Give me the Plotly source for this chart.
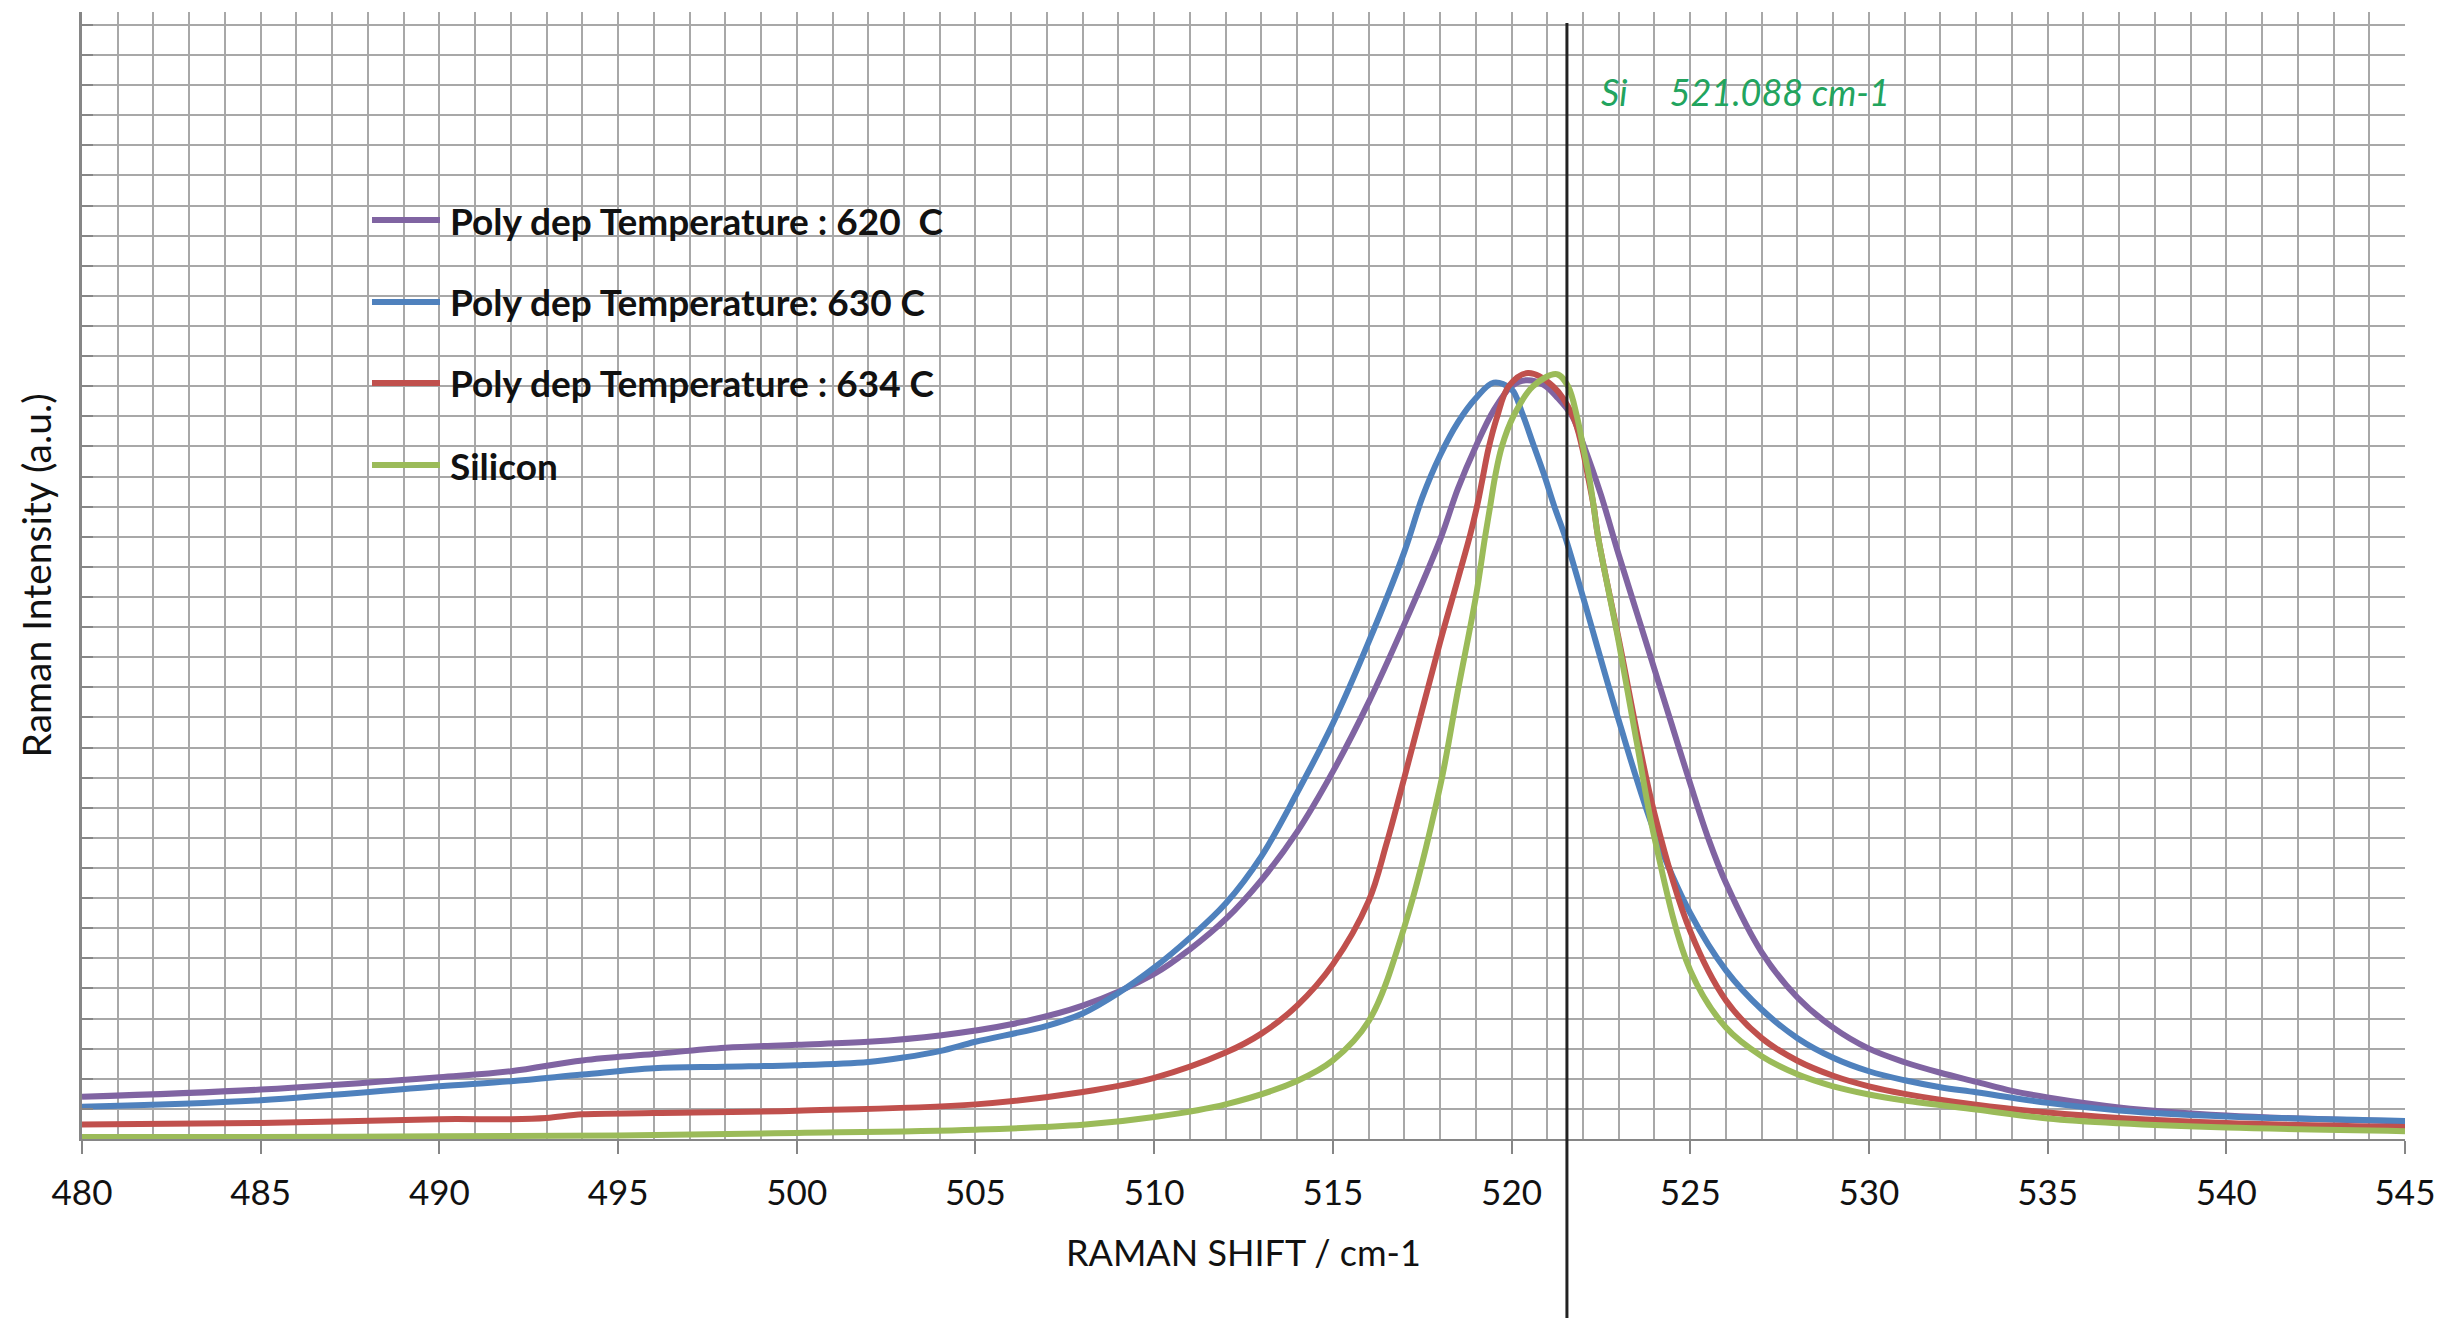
import plotly.graph_objects as go

# ---------------- data ----------------
series_names = [
    "Poly dep Temperature : 620\u00a0\u00a0C",
    "Poly dep Temperature: 630 C",
    "Poly dep Temperature : 634 C",
    "Silicon",
]

x_620 = [480, 485, 490, 492, 494, 496, 498, 500, 502, 504, 506, 508, 510, 511, 512, 513, 514, 515, 516, 517,
         518, 518.5, 519, 519.5, 520, 520.4, 520.9, 521.3, 521.7, 522, 522.5, 523, 523.5,
         524, 524.5, 525, 525.5, 526, 527, 528, 529, 530, 531, 532, 533, 534, 535, 537, 540, 545]
y_620 = [1.40, 1.64, 2.05, 2.25, 2.61, 2.82, 3.03, 3.13, 3.23, 3.44, 3.81, 4.43, 5.48, 6.3, 7.3, 8.6, 10.2, 12.2, 14.5, 17.1,
         19.9, 21.6, 23.0, 24.2, 25.0, 25.2, 25.05, 24.6, 24.0, 23.1, 21.4, 19.4, 17.5,
         15.6, 13.7, 11.8, 10.0, 8.5, 6.2, 4.7, 3.7, 3.0, 2.55, 2.2, 1.9, 1.6, 1.38, 1.05, 0.78, 0.58]

x_630 = [480, 485, 490, 492, 494, 496, 498, 500, 502, 503, 504, 505, 507, 508, 509, 510, 511, 512, 513,
         514, 515, 516, 517, 517.5, 518, 518.5, 519, 519.5, 520, 520.3, 520.6, 520.9, 521.2, 521.5, 522, 523,
         524, 525, 526, 527, 528, 529, 530, 531, 532, 533, 535, 537, 540, 545]
y_630 = [1.07, 1.29, 1.75, 1.92, 2.14, 2.35, 2.40, 2.45, 2.56, 2.71, 2.92, 3.23, 3.76, 4.17, 4.85, 5.69, 6.68, 7.82, 9.39,
         11.5, 13.8, 16.5, 19.5, 21.3, 22.7, 23.8, 24.6, 25.12, 24.9, 24.1, 23.1, 22.1, 21.0, 20.0, 18.0, 13.9,
         10.2, 7.5, 5.6, 4.3, 3.35, 2.7, 2.25, 1.95, 1.72, 1.55, 1.2, 0.95, 0.75, 0.6]

x_634 = [480, 485, 490, 492, 493, 494, 496, 500, 505, 508, 510, 512, 513, 514, 515, 516, 516.5, 517, 518, 518.5,
         518.85, 519.05, 519.2, 519.35, 519.6, 519.92, 520.46, 521.16, 521.72, 521.97, 522.14, 522.3, 522.42,
         523, 524, 525, 526, 527, 528, 529, 530, 531, 533, 535, 537, 540, 545]
y_634 = [0.48, 0.53, 0.66, 0.66, 0.70, 0.82, 0.86, 0.94, 1.15, 1.56, 2.03, 2.87, 3.5, 4.43, 5.8, 7.9, 9.8, 12.0, 16.5, 18.6,
         20.1, 21.1, 22.0, 22.9, 24.0, 25.0, 25.44, 25.0, 24.0, 23.0, 22.0, 21.0, 20.0,
         16.6, 10.8, 6.9, 4.6, 3.35, 2.6, 2.1, 1.75, 1.5, 1.14, 0.88, 0.7, 0.53, 0.40]

x_si = [480, 485, 490, 495, 500, 505, 508, 510, 512, 514, 515, 516, 517, 518, 518.5, 519, 519.26, 519.4,
        519.54, 519.73, 520.05, 520.6, 521.27, 521.58, 521.83, 522.0, 522.17, 522.3, 522.42, 523, 523.5,
        524, 525, 526, 527, 528, 529, 530, 531, 533, 535, 537, 540, 545]
y_si = [0.07, 0.07, 0.09, 0.12, 0.20, 0.31, 0.47, 0.73, 1.15, 1.93, 2.61, 3.91, 7.04, 11.7, 14.9, 18.0, 20.0, 21.0,
        22.0, 23.0, 24.0, 25.0, 25.4, 25.0, 24.0, 23.0, 22.0, 21.0, 20.0, 16.5, 13.2,
        10.0, 5.6, 3.7, 2.75, 2.15, 1.75, 1.48, 1.28, 0.98, 0.68, 0.52, 0.38, 0.26]

xs = [x_620, x_630, x_634, x_si]
ys = [y_620, y_630, y_634, y_si]
colors = ["#8064A2", "#4F81BD", "#C0504D", "#9BBB59"]

x_ticks = [480, 485, 490, 495, 500, 505, 510, 515, 520, 525, 530, 535, 540, 545]
x_range = [480, 545]
y_range = [0, 37.43]

si_line_x = 521.55
si_label = "Si\u00a0\u00a0\u00a0\u00a0\u00a0521.088 cm-1"

# ---------------- layout geometry (pixels) ----------------
W, H = 2463, 1326
L, R, T, B = 82, 2405, 12, 1139   # plot area


def px(xp):
    return (xp - L) / (R - L)


def py(yp):
    return (B - yp) / (B - T)


FONT = "Lato, 'Open Sans', sans-serif"
GRID = "#A8A8A8"

fig = go.Figure()
for name, x, y, c in zip(series_names, xs, ys, colors):
    fig.add_trace(go.Scatter(
        x=x, y=y, name=name, mode="lines",
        line=dict(color=c, width=6, shape="spline", smoothing=1.0),
        showlegend=False,
    ))

fig.update_layout(
    width=W, height=H,
    margin=dict(l=L, r=W - R, t=T, b=H - B),
    paper_bgcolor="white", plot_bgcolor="white",
    font=dict(family=FONT, size=34, color="#000000"),
    xaxis=dict(
        range=x_range, tickvals=x_ticks, ticktext=[str(v) for v in x_ticks],
        showgrid=True, gridcolor=GRID, gridwidth=2,
        minor=dict(dtick=1, showgrid=True, gridcolor=GRID, gridwidth=2, ticks=""),
        ticks="outside", ticklen=13, tickwidth=2, tickcolor="#868686",
        showline=True, linecolor="#868686", linewidth=2,
        tickfont=dict(size=35, family=FONT, color="#111111"),
        ticklabelstandoff=9, zeroline=False,
    ),
    yaxis=dict(
        range=y_range, dtick=1, tick0=0, showticklabels=False,
        showgrid=True, gridcolor=GRID, gridwidth=2,
        ticks="inside", ticklen=11, tickwidth=2, tickcolor="#868686",
        showline=True, linecolor="#868686", linewidth=3, zeroline=False,
    ),
)

# axis titles
fig.add_annotation(text="RAMAN SHIFT / cm-1", xref="paper", yref="paper",
                   x=0.5, y=py(1252), xanchor="center", yanchor="middle",
                   showarrow=False, font=dict(size=36, family=FONT, color="#111111"))
fig.add_annotation(text="Raman Intensity (a.u.)", xref="paper", yref="paper",
                   x=px(35), y=0.5, xanchor="center", yanchor="middle", textangle=-90,
                   showarrow=False, font=dict(size=39, family=FONT, color="#111111"))

# Si reference line and label
fig.add_shape(type="line", xref="x", yref="paper", x0=si_line_x, x1=si_line_x,
              y0=py(1318), y1=py(23), line=dict(color="#222222", width=3), layer="above")
fig.add_annotation(text="<i>" + si_label + "</i>", xref="x", yref="paper",
                   x=si_line_x, xshift=32, y=py(92), xanchor="left", yanchor="middle",
                   showarrow=False, font=dict(size=36, family=FONT, color="#22A45E"))

# legend drawn manually (long line samples like the reference)
rows = [220, 302, 383, 465]
for name, c, r in zip(series_names, colors, rows):
    fig.add_shape(type="line", xref="paper", yref="paper", x0=px(372), x1=px(440),
                  y0=py(r), y1=py(r), line=dict(color=c, width=6), layer="above")
    fig.add_annotation(text="<b>" + name + "</b>", xref="paper", yref="paper",
                       x=px(448), y=py(r), xanchor="left", yanchor="middle",
                       showarrow=False, font=dict(size=37, family=FONT, color="#111111"))

fig.write_html("out.html")
